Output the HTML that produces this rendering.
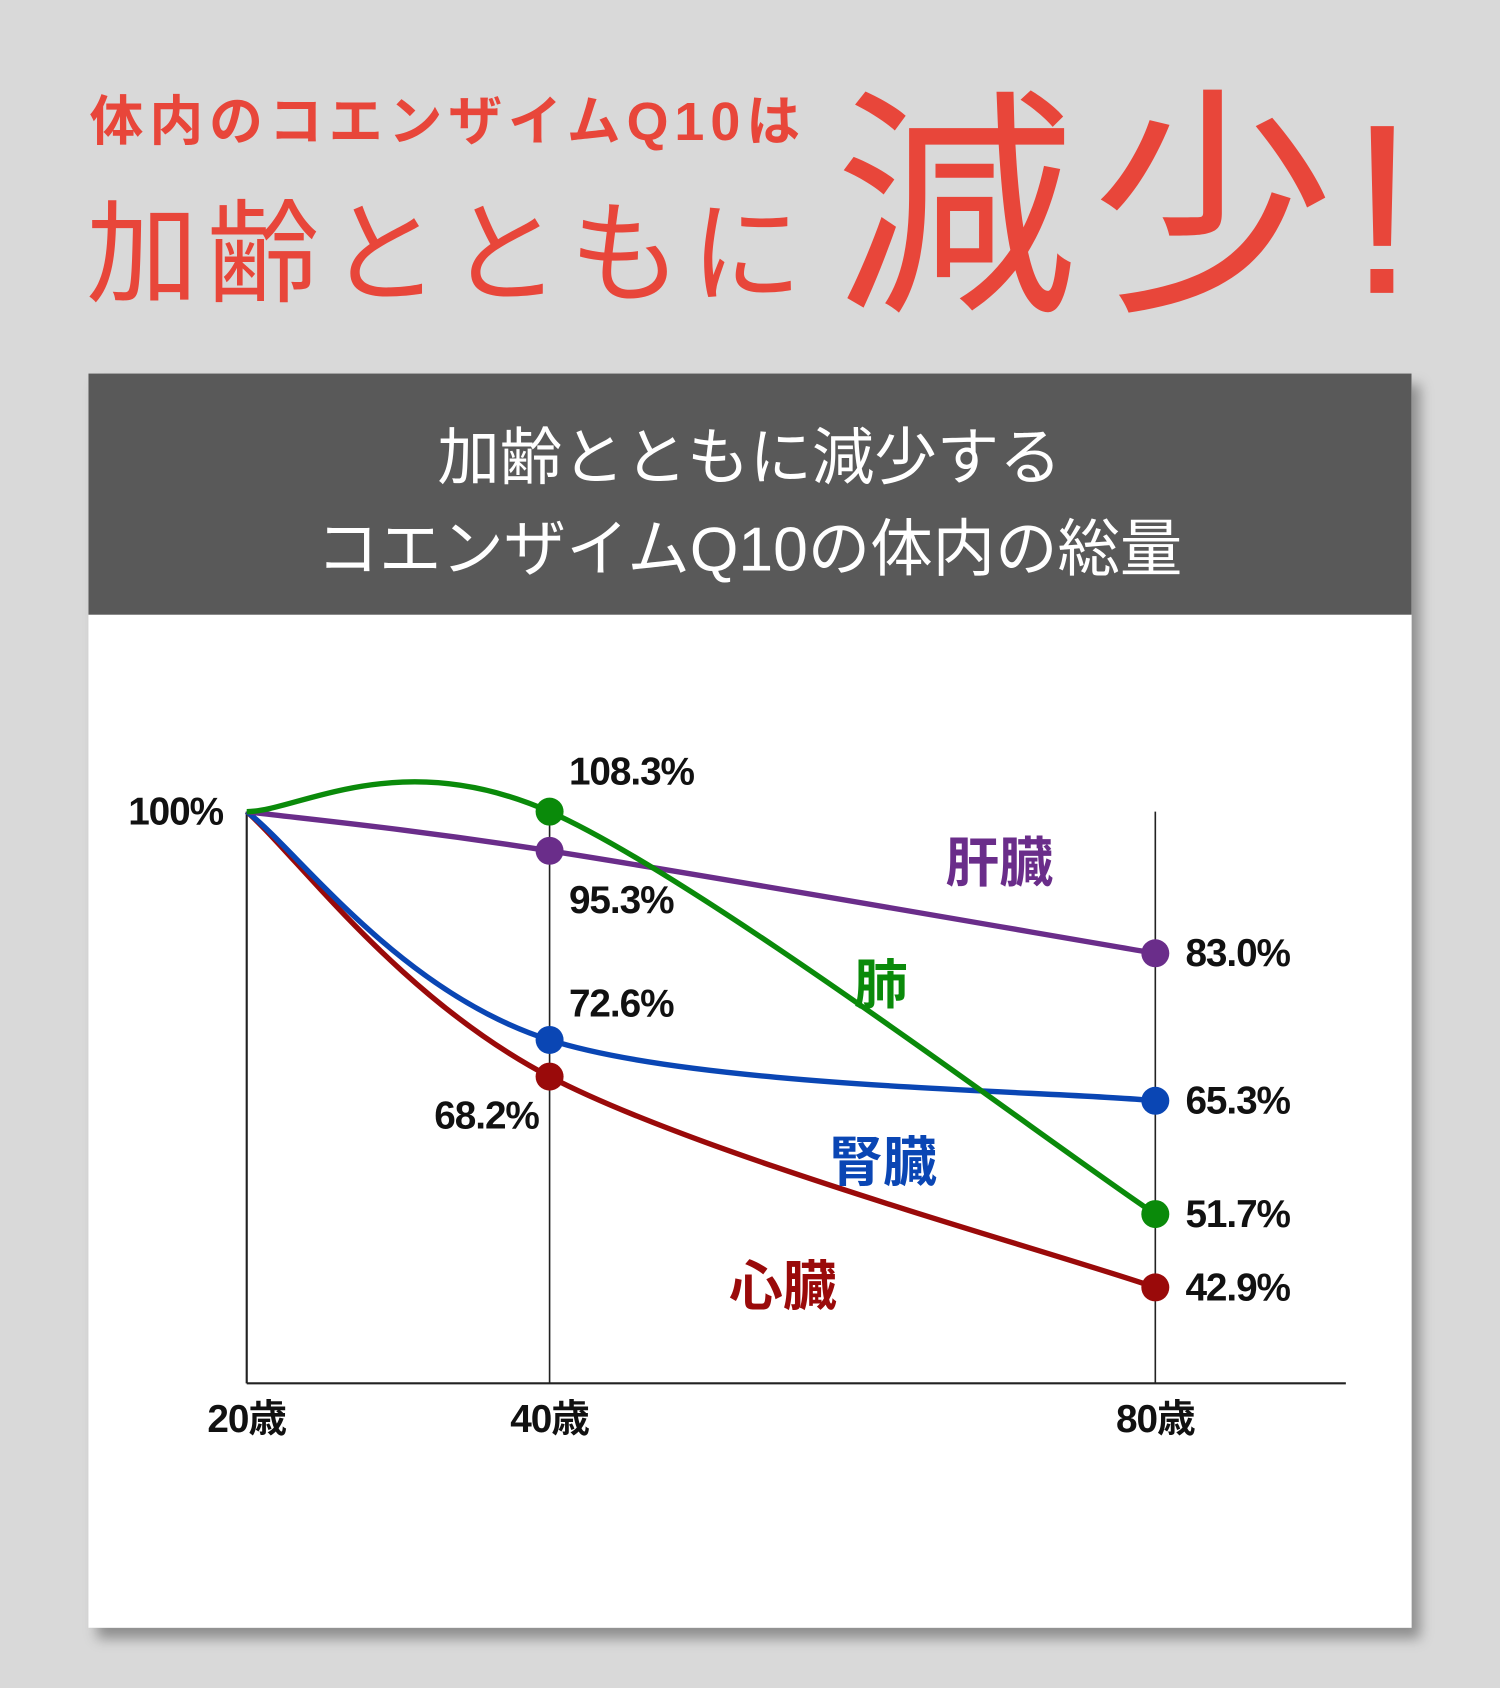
<!DOCTYPE html>
<html><head><meta charset="utf-8"><style>
html,body{margin:0;padding:0;background:#d9d9d9}
svg{display:block}
text{font-family:"Liberation Sans","Noto Sans CJK JP",sans-serif}
</style></head><body>
<svg id="root" width="1500" height="1688" viewBox="0 0 1393 1568" xmlns="http://www.w3.org/2000/svg">
<defs><filter id="sh" x="-5%" y="-5%" width="115%" height="115%"><feDropShadow dx="8" dy="10" stdDeviation="6" flood-color="#000" flood-opacity="0.35"/></filter></defs>
<rect width="1393" height="1568" fill="#d9d9d9"/>
<text x="83" y="130" font-size="50" font-weight="bold" fill="#e8463a" textLength="660">体内のコエンザイムQ10は</text>
<text x="80" y="272" font-size="104" fill="#e8463a" textLength="665">加齢とともに</text>
<text x="775" y="272" font-size="225" fill="#e8463a" textLength="540">減少!</text>
<g filter="url(#sh)">
<rect x="82" y="347" width="1229" height="1165" fill="#fff"/>
</g>
<rect x="82" y="347" width="1229" height="224" fill="#595959"/>
<text x="696" y="445" font-size="58" fill="#fff" text-anchor="middle">加齢とともに減少する</text>
<text x="696" y="530" font-size="58" fill="#fff" text-anchor="middle">コエンザイムQ10の体内の総量</text>
<g id="plot"></g>
</svg>
<script>
const ages = [20, 40, 80];
const ageLabels = ["20歳", "40歳", "80歳"];
const seriesNames = ["肺", "肝臓", "腎臓", "心臓"];
const lungValues = [100, 108.3, 51.7];
const liverValues = [100, 95.3, 83.0];
const kidneyValues = [100, 72.6, 65.3];
const heartValues = [100, 68.2, 42.9];
const yTickLabel = "100%";

const NS = "http://www.w3.org/2000/svg";
const plot = document.getElementById("plot");
const x = a => 229 + (a - 20) * (1073 - 229) / 60;
const yLin = v => 998.3 - 7.74 * (v - 68.43);
const y = v => Math.max(yLin(Math.min(v, 100)), yLin(100));
function mk(tag, attrs, parent) { const e = document.createElementNS(NS, tag); for (const k in attrs) e.setAttribute(k, attrs[k]); (parent || plot).appendChild(e); return e; }

let ax = mk("line", {x1: x(20), y1: y(100), x2: x(20), y2: 1285, stroke: "#222", "stroke-width": 2});


let xa = mk("line", {x1: x(20), y1: 1285, x2: 1250, y2: 1285, stroke: "#222", "stroke-width": 2});


ages.forEach((a, i) => {
  if (i > 0) {
    const g = mk("line", {x1: x(a), y1: y(100), x2: x(a), y2: 1285, stroke: "#222", "stroke-width": 1.5});
    
    
  }
  const t = mk("text", {x: x(a), y: 1330, "font-size": 36, "font-weight": "bold", "text-anchor": "middle", fill: "#111", "letter-spacing": -1});
  t.textContent = ageLabels[i];
  
  
});
const yt = mk("text", {x: 207, y: y(100) + 12, "font-size": 36, "font-weight": "bold", "text-anchor": "end", fill: "#111", "letter-spacing": -1});
yt.textContent = yTickLabel;



function curve(pts) {
  const p = [pts[0], ...pts, pts[pts.length - 1]];
  let d = "M" + pts[0][0] + "," + pts[0][1];
  for (let i = 1; i < p.length - 2; i++) {
    const p0 = p[i - 1], p1 = p[i], p2 = p[i + 1], p3 = p[i + 2];
    const c1 = [p1[0] + (p2[0] - p0[0]) / 6, p1[1] + (p2[1] - p0[1]) / 6];
    const c2 = [p2[0] - (p3[0] - p1[0]) / 6, p2[1] - (p3[1] - p1[1]) / 6];
    d += " C" + c1 + " " + c2 + " " + p2;
  }
  return d;
}
const series = [
  {vals: heartValues, color: "#9a0a0a", key: "heart", name: seriesNames[3], nx: 727, ny: 1212, offs: [null, [-10, 48, "end"], [28, 12, "start"]]},
  {vals: kidneyValues, color: "#0a46b4", key: "kidney", name: seriesNames[2], nx: 820, ny: 1097, offs: [null, [18, -22, "start"], [28, 12, "start"]]},
  {vals: liverValues, color: "#6a2d8a", key: "liver", name: seriesNames[1], nx: 928, ny: 819, offs: [null, [18, 58, "start"], [28, 12, "start"]]},
  {vals: lungValues, color: "#0a8a0a", key: "lung", name: seriesNames[0], nx: 818, ny: 932, offs: [null, [18, -25, "start"], [28, 12, "start"]]}
];
series.forEach(s => {
  const pts = ages.map((a, i) => [x(a), y(s.vals[i])]);
  const path = mk("path", {d: curve(pts), fill: "none", stroke: s.color, "stroke-width": 5});
  
  
});
series.forEach(s => {
  ages.forEach((a, i) => {
    if (i === 0) return;
    const c = mk("circle", {cx: x(a), cy: y(s.vals[i]), r: 13, fill: s.color});
    
    
    const o = s.offs[i];
    const t = mk("text", {x: x(a) + o[0], y: y(s.vals[i]) + o[1], "font-size": 36, "font-weight": "bold", "text-anchor": o[2], fill: "#111", "letter-spacing": -1});
    t.textContent = s.vals[i].toFixed(1) + "%";
    
    
  });
  const n = mk("text", {x: s.nx, y: s.ny, "font-size": 50, "font-weight": "bold", "text-anchor": "middle", fill: s.color});
  n.textContent = s.name;
  
  
});
</script>
</body></html>
